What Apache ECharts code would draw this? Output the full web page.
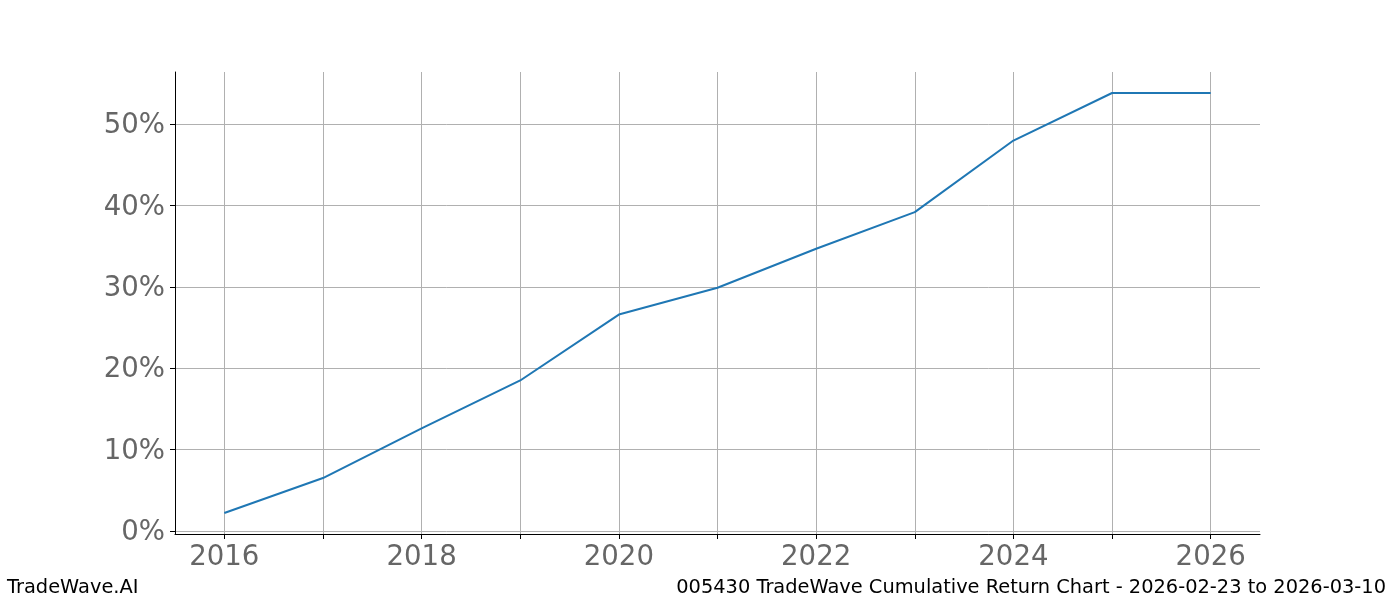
<!DOCTYPE html>
<html>
<head>
<meta charset="utf-8">
<script src="https://cdn.jsdelivr.net/npm/echarts@6/dist/echarts.min.js"></script>
<style>
html,body{margin:0;padding:0;background:#fff;}
#chart{width:1400px;height:600px;}
</style>
</head>
<body>
<div id="chart"></div>
<script>
const years = [2016, 2017, 2018, 2019, 2020, 2021, 2022, 2023, 2024, 2025, 2026];
const returns = [2.2, 6.5, 12.6, 18.5, 26.6, 29.9, 34.7, 39.2, 48.0, 53.85, 53.85];
const xTickValues = [2016, 2017, 2018, 2019, 2020, 2021, 2022, 2023, 2024, 2025, 2026];
const xLabelValues = [2016, 2018, 2020, 2022, 2024, 2026];
const yTickValues = [0, 10, 20, 30, 40, 50];
const footerLeft = 'TradeWave.AI';
const footerRight = '005430 TradeWave Cumulative Return Chart - 2026-02-23 to 2026-03-10';

const font = 'DejaVu Sans';
const chart = echarts.init(document.getElementById('chart'));
chart.setOption({
  animation: false,
  backgroundColor: '#ffffff',
  grid: {left: 175, right: 140, top: 72, bottom: 66, containLabel: false},
  xAxis: {
    type: 'value',
    min: 2015.5,
    max: 2026.5,
    axisLine: {show: true, onZero: false, lineStyle: {color: '#000', width: 1}},
    axisTick: {show: true, length: 5, customValues: xTickValues, lineStyle: {color: '#000', width: 1}},
    axisLabel: {customValues: xLabelValues, color: '#666666', fontFamily: font, fontSize: 27.6, margin: 10, formatter: v => String(v)},
    splitLine: {show: true, lineStyle: {color: '#b0b0b0', width: 1}}
  },
  yAxis: {
    type: 'value',
    min: -0.38,
    max: 56.43,
    axisLine: {show: true, onZero: false, lineStyle: {color: '#000', width: 1}},
    axisTick: {show: true, length: 5, customValues: yTickValues, lineStyle: {color: '#000', width: 1}},
    axisLabel: {
      customValues: yTickValues, color: '#666666', fontFamily: font, fontSize: 27.6, margin: 10,
      formatter: v => '{a|' + v + '%}',
      rich: {a: {color: '#666666', fontFamily: font, fontSize: 27.6, padding: [4, 0, 0, 0]}}
    },
    splitLine: {show: true, lineStyle: {color: '#b0b0b0', width: 1}}
  },
  series: [{
    type: 'line',
    data: years.map((y, i) => [y, returns[i]]),
    showSymbol: false,
    symbol: 'none',
    lineStyle: {color: '#1f77b4', width: 2},
    itemStyle: {color: '#1f77b4'}
  }],
  graphic: [
    {type: 'text', left: 7, top: 578, style: {text: footerLeft, fill: '#000', font: '19.4px "DejaVu Sans"'}},
    {type: 'text', right: 14, top: 578, style: {text: footerRight, fill: '#000', font: '19.4px "DejaVu Sans"'}}
  ]
});
</script>
</body>
</html>
